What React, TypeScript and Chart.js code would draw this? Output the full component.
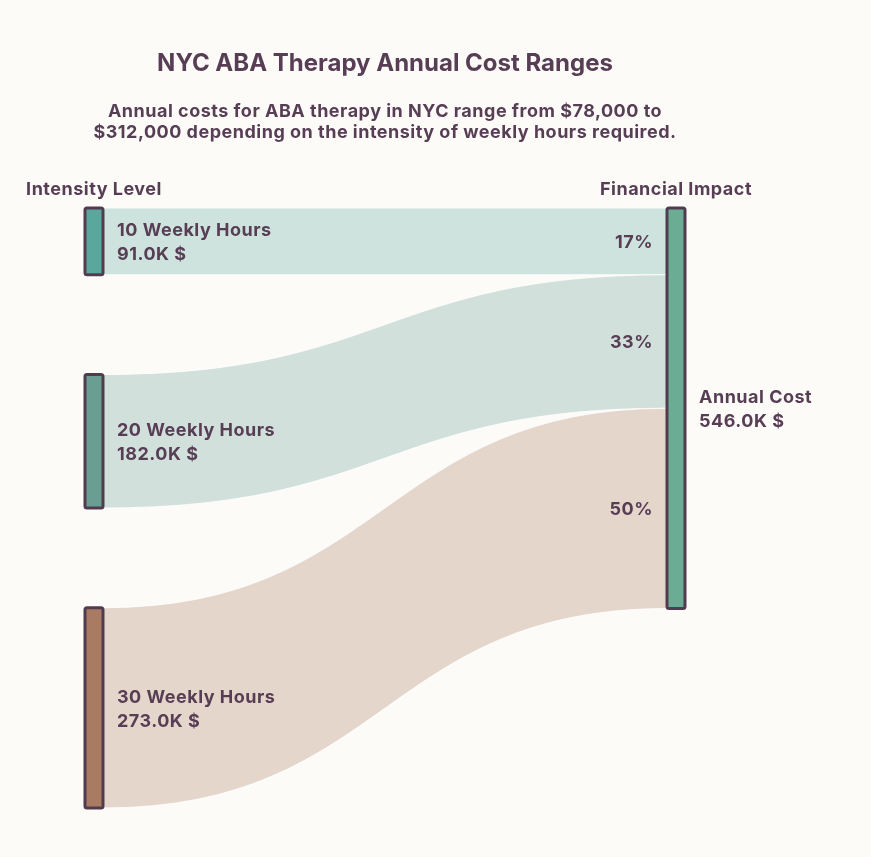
import React, { useEffect, useRef } from "react";
import { Chart, registerables } from "chart.js";

Chart.register(...registerables);

// data (K $)
const sourceLabels = ["10 Weekly Hours", "20 Weekly Hours", "30 Weekly Hours"];
const sourceValues = [91, 182, 273];
const targetLabel = "Annual Cost";
const columnTitles = ["Intensity Level", "Financial Impact"];
const titleText = "NYC ABA Therapy Annual Cost Ranges";
const subtitleLines = [
  "Annual costs for ABA therapy in NYC range from $78,000 to",
  "$312,000 depending on the intensity of weekly hours required.",
];

// styles
const BG = "#fcfbf8";
const TEXT = "#573e55";
const BORDER = "#503c4e";
const nodeColors = ["#5aa89d", "#6a9e92", "#a97b62"];
const targetColor = "#6aac94";
const flowColors = ["#cfe3de", "#d2e0dc", "#e5d6cc"];
const NODE_W = 18;
const GAP = 136; // node padding, in value units
const FONT = "Inter, 'Noto Sans', sans-serif";

const total = sourceValues.reduce((s, v) => s + v, 0);
const yMax = total + GAP * (sourceValues.length - 1);

const fmt = (v: number) => v.toFixed(1) + "K $";

const sankeyPlugin = {
  id: "sankey",
  beforeDatasetsDraw(chart: any) {
    const { ctx, chartArea, scales } = chart;
    const x = scales.x;
    const y = scales.y;
    const x0 = x.getPixelForValue(0);
    const x1 = x.getPixelForValue(1);
    const xm = (x0 + x1) / 2;

    // positions in value units
    let s = 0;
    let t = 0;
    const src = sourceValues.map((v) => {
      const r = { a: s, b: s + v, ta: t, tb: t + v };
      s += v + GAP;
      t += v;
      return r;
    });

    ctx.save();
    // flows
    src.forEach((r, i) => {
      const la = y.getPixelForValue(r.a);
      const lb = y.getPixelForValue(r.b);
      const ra = y.getPixelForValue(r.ta);
      const rb = y.getPixelForValue(r.tb);
      ctx.beginPath();
      ctx.moveTo(x0, la);
      ctx.bezierCurveTo(xm, la, xm, ra, x1, ra);
      ctx.lineTo(x1, rb);
      ctx.bezierCurveTo(xm, rb, xm, lb, x0, lb);
      ctx.closePath();
      ctx.fillStyle = flowColors[i];
      ctx.fill();
      ctx.strokeStyle = "rgba(255,255,255,0.8)";
      ctx.lineWidth = 1;
      ctx.stroke();
    });

    // nodes
    const drawNode = (left: number, top: number, bottom: number, color: string) => {
      ctx.beginPath();
      ctx.roundRect(left, top, NODE_W, bottom - top, 2);
      ctx.fillStyle = color;
      ctx.fill();
      ctx.lineWidth = 3;
      ctx.strokeStyle = BORDER;
      ctx.stroke();
    };
    src.forEach((r, i) => {
      drawNode(x0 - NODE_W, y.getPixelForValue(r.a), y.getPixelForValue(r.b), nodeColors[i]);
    });
    drawNode(x1, y.getPixelForValue(0), y.getPixelForValue(total), targetColor);

    // text
    const dy = 1.5;
    ctx.fillStyle = TEXT;
    ctx.textBaseline = "middle";
    ctx.font = `bold 18px ${FONT}`;
    ctx.letterSpacing = "0.5px";
    ctx.textAlign = "left";
    src.forEach((r, i) => {
      const c = (y.getPixelForValue(r.a) + y.getPixelForValue(r.b)) / 2 + dy;
      ctx.fillText(sourceLabels[i], x0 + 14, c - 12);
      ctx.fillText(fmt(sourceValues[i]), x0 + 14, c + 12);
    });
    const tc = (y.getPixelForValue(0) + y.getPixelForValue(total)) / 2 + dy;
    ctx.fillText(targetLabel, x1 + NODE_W + 14, tc - 12);
    ctx.fillText(fmt(total), x1 + NODE_W + 14, tc + 12);

    ctx.textAlign = "right";
    src.forEach((r, i) => {
      const c = (y.getPixelForValue(r.ta) + y.getPixelForValue(r.tb)) / 2 + dy;
      ctx.fillText(Math.round((sourceValues[i] / total) * 100) + "%", x1 - 14, c);
    });

    ctx.textAlign = "center";
    ctx.fillText(columnTitles[0], x0 - NODE_W / 2, chartArea.top - 20 + dy);
    ctx.fillText(columnTitles[1], x1 + NODE_W / 2, chartArea.top - 20 + dy);

    const cx = (chartArea.left + chartArea.right) / 2;
    ctx.letterSpacing = "0px";
    ctx.font = `bold 24px ${FONT}`;
    ctx.fillText(titleText, cx, chartArea.top - 146 + dy);
    ctx.font = `bold 18px ${FONT}`;
    ctx.letterSpacing = "0.5px";
    ctx.fillText(subtitleLines[0], cx, chartArea.top - 98 + dy);
    ctx.fillText(subtitleLines[1], cx, chartArea.top - 77 + dy);
    ctx.restore();
  },
};

export default function App() {
  const canvasRef = useRef<HTMLCanvasElement | null>(null);

  useEffect(() => {
    if (!canvasRef.current) return;
    const chart = new Chart(canvasRef.current, {
      type: "scatter",
      data: { datasets: [{ data: [] }] },
      options: {
        responsive: false,
        animation: false,
        layout: { padding: { left: 103, right: 204, top: 208, bottom: 49 } },
        plugins: { legend: { display: false }, tooltip: { enabled: false } },
        scales: {
          x: { type: "linear", min: 0, max: 1, display: false },
          y: { type: "linear", min: 0, max: yMax, reverse: true, display: false },
        },
      },
      plugins: [sankeyPlugin],
    });
    return () => chart.destroy();
  }, []);

  return (
    <div
      style={{
        position: "absolute",
        left: 0,
        top: 0,
        width: 871,
        height: 857,
        background: BG,
      }}
    >
      <canvas ref={canvasRef} width={871} height={857} />
    </div>
  );
}
